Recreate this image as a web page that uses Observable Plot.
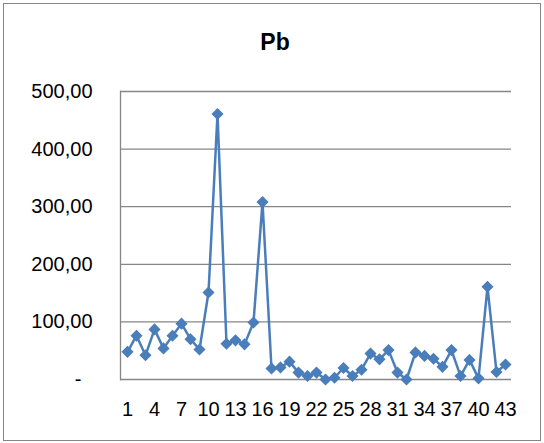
<!DOCTYPE html>
<html>
<head>
<meta charset="utf-8">
<script src="https://cdn.jsdelivr.net/npm/d3@7"></script>
<script src="https://cdn.jsdelivr.net/npm/@observablehq/plot@0.6"></script>
<style>
  html, body { margin: 0; padding: 0; background: #fff; }
  #wrap { position: relative; width: 544px; height: 443px; }
  #border { position: absolute; left: 3px; top: 3px; width: 538px; height: 438px; border: 1.5px solid #868686; box-sizing: border-box; pointer-events: none; }
  #title { position: absolute; left: 0; top: 31px; width: 550px; text-align: center; font: bold 23px "Liberation Sans", Arial, sans-serif; line-height: 23px; color: #000; }
  #chart { position: absolute; left: 0; top: 0; }
</style>
</head>
<body>
<div id="wrap">
  <div id="chart"></div>
  <div id="title">Pb</div>
  <div id="border"></div>
</div>
<script>
const title = "Pb";
const samples = d3.range(1, 44);
const pb = [48, 76, 42, 87, 54, 76, 97, 70, 52, 151,
            461, 62, 68, 61, 99, 308, 19, 21, 31, 12,
            6, 12, 0, 3, 20, 6, 17, 45, 35, 51,
            12, 0, 47, 41, 36, 22, 51, 6, 34, 2,
            161, 13, 26];
const xTicks = [1, 4, 7, 10, 13, 16, 19, 22, 25, 28, 31, 34, 37, 40, 43];
const yTicks = [0, 100, 200, 300, 400, 500];

const data = samples.map((s, i) => ({sample: s, value: pb[i]}));
const fmt = v => v === 0 ? "-\u00a0\u00a0" : d3.format(".2f")(v).replace(".", ",");

const color = "#4a7ebb";
const grid = "#868686";

const plot = Plot.plot({
  width: 544,
  height: 443,
  marginTop: 91,
  marginBottom: 64,
  marginLeft: 120,
  marginRight: 33,
  style: {fontFamily: "'Liberation Sans', Arial, sans-serif", fontSize: "20px", color: "#000", background: "transparent"},
  x: {type: "point", domain: samples, padding: 0.5, label: null},
  y: {domain: [0, 500], label: null},
  marks: [
    Plot.ruleY(yTicks, {stroke: grid, strokeWidth: 1.3}),
    Plot.frame({anchor: "left", stroke: grid, strokeWidth: 1.3}),
    Plot.axisX({ticks: xTicks, tickSize: 0, tickPadding: 22, fontSize: 20, label: null}),
    Plot.axisY({ticks: yTicks, tickSize: 0, tickPadding: 28, tickFormat: fmt, fontSize: 20, label: null}),
    Plot.line(data, {x: "sample", y: "value", stroke: color, strokeWidth: 2.5}),
    Plot.dot(data, {x: "sample", y: "value", symbol: "diamond2", r: 4.5, fill: color, stroke: color})
  ]
});
document.getElementById("chart").appendChild(plot);
document.getElementById("title").textContent = title;
</script>
</body>
</html>
